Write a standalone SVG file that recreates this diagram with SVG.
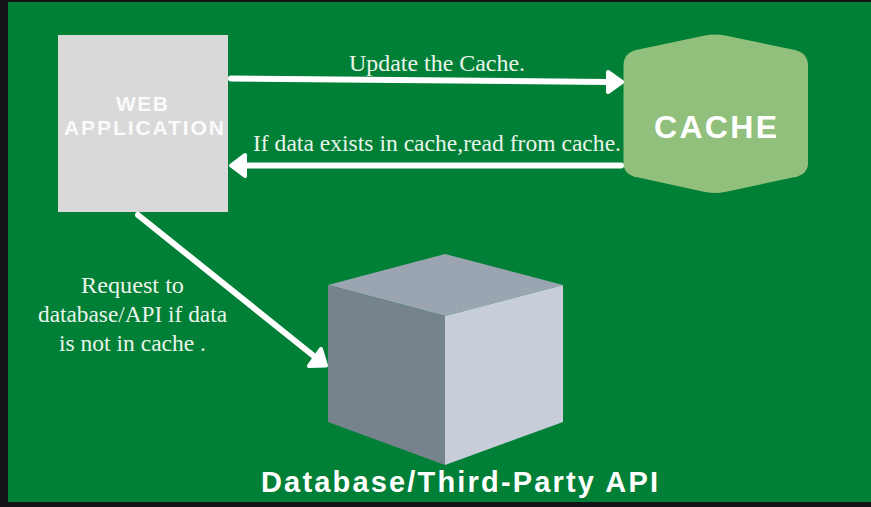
<svg xmlns="http://www.w3.org/2000/svg" width="871" height="507" viewBox="0 0 871 507">
<style>
.sans{font-family:"Liberation Sans",Arial,sans-serif;font-weight:700;fill:#fff}
.ser{font-family:"Liberation Serif","Times New Roman",serif;font-size:23px;fill:#eaf4ea}
.ln{stroke:#fff;stroke-width:6;stroke-linecap:round;fill:none}
.hd{fill:#fff;stroke:#fff;stroke-width:4;stroke-linejoin:round}
</style>
<rect width="871" height="507" fill="#131418"/>
<rect x="8" y="2" width="863" height="500" fill="#008037"/>
<g id="web-application">
<rect x="58" y="35" width="170" height="177" fill="#d9d9d9"/>
<text class="sans" x="116" y="110.500" font-size="21" textLength="52" lengthAdjust="spacing" fill-opacity="0.9">WEB</text>
<text class="sans" x="64" y="134.500" font-size="21" textLength="160" lengthAdjust="spacing" fill-opacity="0.9">APPLICATION</text>
</g>
<g id="cache">
<path d="M623.500 66Q623.500 53 636 50L705 35.500Q715 33.500 725 35.500L795 50Q808 53 808 66V163Q808 174 795 177L725 192Q715 194 705 192L636 177Q623.500 174 623.500 163Z" fill="#91c07c"/>
<text class="sans" x="654" y="138" font-size="32" textLength="123" lengthAdjust="spacing">CACHE</text>
</g>
<g id="database">
<polygon points="445,254 563,285 445,316 328,285" fill="#9aa5b1"/>
<polygon points="328,285 445,316 445,465 328,422" fill="#77838c"/>
<polygon points="445,316 563,285 563,422 445,465" fill="#c8ced9"/>
<text class="sans" x="261" y="492" font-size="29" textLength="397" lengthAdjust="spacing">Database/Third-Party API</text>
</g>
<g id="connectors">
<path class="ln" d="M231 78.500L608 82"/>
<polygon class="hd" points="608,72 622,82 608,92"/>
<path class="ln" d="M621 165.500H245"/>
<polygon class="hd" points="245,155 231,165.500 245,176"/>
<path class="ln" d="M138 215L315 357"/>
<polygon class="hd" points="309,366 326,365.500 321,349"/>
</g>
<g id="labels">
<text class="ser" x="349" y="71" textLength="176" lengthAdjust="spacingAndGlyphs">Update the Cache.</text>
<text class="ser" x="253" y="151" textLength="368" lengthAdjust="spacingAndGlyphs">If data exists in cache,read from cache.</text>
<text class="ser" x="81" y="293" textLength="103" lengthAdjust="spacingAndGlyphs">Request to</text>
<text class="ser" x="38" y="322" textLength="189" lengthAdjust="spacingAndGlyphs">database/API if data</text>
<text class="ser" x="59" y="351" textLength="147" lengthAdjust="spacingAndGlyphs">is not in cache .</text>
</g>
</svg>
